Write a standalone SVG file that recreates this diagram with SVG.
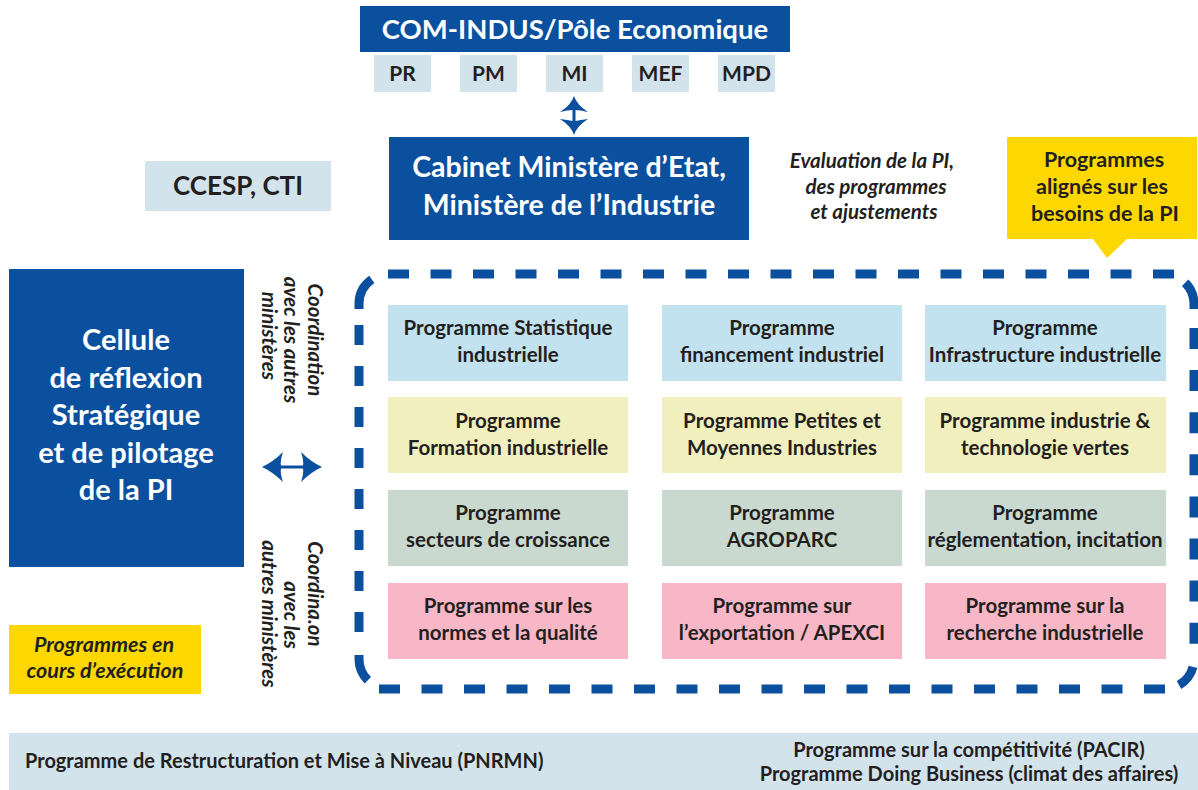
<svg xmlns="http://www.w3.org/2000/svg" width="1198" height="790" viewBox="0 0 1198 790">
<defs>
<style>
.bl{fill:#0a509e}
.lg{fill:#d3e3ec}
.yl{fill:#fdd800}
.r1{fill:#c1e2ee}
.r2{fill:#f2efbe}
.r3{fill:#cad9cf}
.r4{fill:#f8b7c6}
text{font-family:Lato,"Open Sans","Liberation Sans",sans-serif;font-weight:700}
.w{fill:#ffffff}
.d{fill:#231f20}
.i{font-style:italic}
.m{text-anchor:middle}
.p{font-size:20.5px;fill:#231f20;text-anchor:middle}
.v{font-size:20.5px}
.dash{fill:none;stroke:#0a509e;stroke-width:9}
</style>
</defs>

<g id="com-indus">
<rect class="bl" x="360" y="6" width="430" height="46"/>
<text class="w m" x="575" y="39" font-size="27.5">COM-INDUS/Pôle Economique</text>
</g>
<g id="pr"><rect class="lg" x="374" y="55" width="57" height="37"/><text class="d m" x="402.5" y="81" font-size="21">PR</text></g>
<g id="pm"><rect class="lg" x="460" y="55" width="57" height="37"/><text class="d m" x="488.5" y="81" font-size="21">PM</text></g>
<g id="mi"><rect class="lg" x="546" y="55" width="57" height="37"/><text class="d m" x="574.5" y="81" font-size="21">MI</text></g>
<g id="mef"><rect class="lg" x="632" y="55" width="57" height="37"/><text class="d m" x="660.5" y="81" font-size="21">MEF</text></g>
<g id="mpd"><rect class="lg" x="718" y="55" width="57" height="37"/><text class="d m" x="746.5" y="81" font-size="21">MPD</text></g>

<g id="cabinet">
<rect class="bl" x="389" y="137" width="360" height="103"/>
<text class="w m" x="569" y="177" font-size="28.5">Cabinet Ministère d’Etat,</text>
<text class="w m" x="569" y="215" font-size="28.5">Ministère de l’Industrie</text>
</g>

<g id="ccesp">
<rect class="lg" x="145" y="161" width="186" height="50"/>
<text class="d m" x="238" y="195" font-size="26">CCESP, CTI</text>
</g>

<g id="evaluation">
<text class="d m i" x="872" y="168" font-size="20.5">Evaluation de la PI,</text>
<text class="d m i" x="876" y="194" font-size="20.5">des programmes</text>
<text class="d m i" x="874" y="219" font-size="20.5">et ajustements</text>
</g>

<g id="alignes">
<path class="yl" d="M1007,137 H1197 V239 H1127 L1107,258 L1093,239 H1007 Z"/>
<text class="d m" x="1104" y="167" font-size="21.5">Programmes</text>
<text class="d m" x="1102" y="194" font-size="21.5">alignés sur les</text>
<text class="d m" x="1105" y="221" font-size="21.5">besoins de la PI</text>
</g>

<g id="cellule">
<rect class="bl" x="9" y="269" width="235" height="298"/>
<text class="w m" x="126" y="350" font-size="29">Cellule</text>
<text class="w m" x="126" y="388" font-size="29">de réflexion</text>
<text class="w m" x="126" y="425" font-size="29">Stratégique</text>
<text class="w m" x="126" y="463" font-size="29">et de pilotage</text>
<text class="w m" x="126" y="500" font-size="29">de la PI</text>
</g>

<g id="coordination-haut">
<text class="d m i v" transform="translate(308,340) rotate(90)">Coordination</text>
<text class="d m i v" transform="translate(284,340) rotate(90)">avec les autres</text>
<text class="d m i v" transform="translate(262,336) rotate(90)">ministères</text>
</g>
<g id="coordination-bas">
<text class="d m i v" transform="translate(308,594) rotate(90)">Coordina.on</text>
<text class="d m i v" transform="translate(284,615) rotate(90)">avec les</text>
<text class="d m i v" transform="translate(262,614) rotate(90)">autres ministères</text>
</g>

<g id="en-cours">
<rect class="yl" x="9" y="625" width="192" height="69"/>
<text class="d m i" x="104" y="652" font-size="21.5">Programmes en</text>
<text class="d m i" x="105" y="678" font-size="21.5">cours d’exécution</text>
</g>

<g id="cadre-programmes">
<path class="dash" d="M388,274 H1174" stroke-dasharray="21 21.5"/>
<path class="dash" d="M379,689 H1165" stroke-dasharray="21 21.5"/>
<path class="dash" d="M359,325 V633" stroke-dasharray="20 21"/>
<path class="dash" d="M1194,328 V646" stroke-dasharray="21 21.1"/>
<path class="dash" d="M359,309 V304 A30,30 0 0 1 371.8,279.4"/>
<path class="dash" d="M1194,309 V304 A30,30 0 0 0 1185.2,282.8"/>
<path class="dash" d="M1193,666.8 A30,30 0 0 1 1179,685"/>
<path class="dash" d="M359,655 V659 A30,30 0 0 0 367.8,680.2"/>
</g>

<g id="p-statistique"><rect class="r1" x="388" y="305" width="240" height="76"/><text class="p" x="508" y="335">Programme Statistique</text><text class="p" x="508" y="362">industrielle</text></g>
<g id="p-financement"><rect class="r1" x="662" y="305" width="240" height="76"/><text class="p" x="782" y="335">Programme</text><text class="p" x="782" y="362">financement industriel</text></g>
<g id="p-infrastructure"><rect class="r1" x="925" y="305" width="241" height="76"/><text class="p" x="1045" y="335">Programme</text><text class="p" x="1045" y="362">Infrastructure industrielle</text></g>

<g id="p-formation"><rect class="r2" x="388" y="397" width="240" height="76"/><text class="p" x="508" y="428">Programme</text><text class="p" x="508" y="455">Formation industrielle</text></g>
<g id="p-pmi"><rect class="r2" x="662" y="397" width="240" height="76"/><text class="p" x="782" y="428">Programme Petites et</text><text class="p" x="782" y="455">Moyennes Industries</text></g>
<g id="p-vertes"><rect class="r2" x="925" y="397" width="241" height="76"/><text class="p" x="1045" y="428">Programme industrie &amp;</text><text class="p" x="1045" y="455">technologie vertes</text></g>

<g id="p-croissance"><rect class="r3" x="388" y="490" width="240" height="76"/><text class="p" x="508" y="520">Programme</text><text class="p" x="508" y="547">secteurs de croissance</text></g>
<g id="p-agroparc"><rect class="r3" x="662" y="490" width="240" height="76"/><text class="p" x="782" y="520">Programme</text><text class="p" x="782" y="547">AGROPARC</text></g>
<g id="p-reglementation"><rect class="r3" x="925" y="490" width="241" height="76"/><text class="p" x="1045" y="520">Programme</text><text class="p" x="1045" y="547">réglementation, incitation</text></g>

<g id="p-normes"><rect class="r4" x="388" y="583" width="240" height="76"/><text class="p" x="508" y="613">Programme sur les</text><text class="p" x="508" y="640">normes et la qualité</text></g>
<g id="p-export"><rect class="r4" x="662" y="583" width="240" height="76"/><text class="p" x="782" y="613">Programme sur</text><text class="p" x="782" y="640">l’exportation / APEXCI</text></g>
<g id="p-recherche"><rect class="r4" x="925" y="583" width="241" height="76"/><text class="p" x="1045" y="613">Programme sur la</text><text class="p" x="1045" y="640">recherche industrielle</text></g>

<g id="bande-bas">
<rect class="lg" x="9" y="733" width="1189" height="57"/>
<text class="d" x="25" y="768" font-size="20">Programme de Restructuration et Mise à Niveau (PNRMN)</text>
<text class="d m" x="969" y="757" font-size="20">Programme sur la compétitivité (PACIR)</text>
<text class="d m" x="969" y="781" font-size="20">Programme Doing Business (climat des affaires)</text>
</g>

<g id="connecteurs">
<path class="bl" d="M574,96 Q577,105 588,112 Q580,110 575.5,110 L575.5,121 Q580,120 588,119 Q577,126 574,135 Q571,126 560,119 Q568,120 572.5,121 L572.5,110 Q568,110 560,112 Q571,105 574,96 Z"/>
<path class="bl" d="M262,467 Q273,462 283,452 Q280,461 281,465.5 L303,465.5 Q304,461 301,452 Q311,462 322,467 Q311,472 301,482 Q304,473 303,468.5 L281,468.5 Q280,473 283,482 Q273,472 262,467 Z"/>
</g>
</svg>
